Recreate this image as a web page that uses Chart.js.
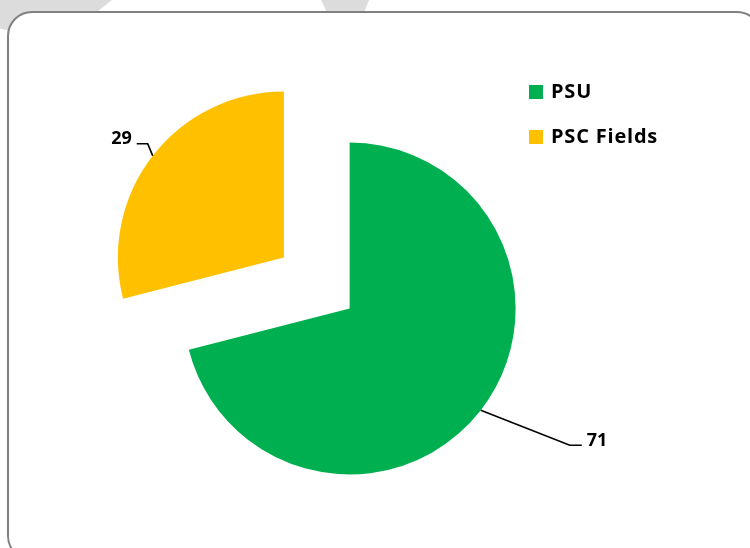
<html>
  <head>
    <meta charset="utf-8">
    <title>PSU vs PSC Fields</title>
    <script src="https://cdn.jsdelivr.net/npm/chart.js@4.4.1/dist/chart.umd.min.js"></script>
    <style>
      body { margin: 0; width: 750px; height: 548px; overflow: hidden; background: #fff; position: relative; }
      .blob { position: absolute; background: #dcdcdc; }
      #frame { position: absolute; left: 7px; top: 11px; width: 755px; height: 550px; border: 2px solid #808080;
               border-radius: 25px; background: #fff; box-sizing: border-box; }
      #myChart { position: absolute; left: 0; top: 0; }
      #legend { position: absolute; left: 529px; top: 0; font-family: "Open Sans", sans-serif; font-weight: bold;
                font-size: 20px; letter-spacing: 0.8px; color: #000; }
      .item { position: absolute; white-space: nowrap; line-height: 28px; }
      .item span.box { position: absolute; left: 0; width: 14px; height: 14px; }
      .item span.txt { position: absolute; left: 22px; }
    </style>
  </head>
  <body>
    <div class="blob" style="left:0;top:0;width:112px;height:40px;clip-path:polygon(0 0,100% 0,55% 100%,0 72%)"></div>
    <div class="blob" style="left:321px;top:0;width:48px;height:30px;clip-path:polygon(0 0,100% 0,75% 100%,30% 100%)"></div>
    <div id="frame"></div>
    <canvas id="myChart" width="750" height="548"></canvas>
    <div id="legend"></div>

    <script type="text/javascript">
      const labels = ["PSU", "PSC Fields"];
      const values = [71, 29];
      const colors = ['#00B050', '#FFC000'];

      // how far each slice is pulled out of the pie, and where its label line bends
      const explode = 41.6;
      const leaders = [
        { elbow: [89, 35], run: 12, side: 1 },
        { elbow: [-5, -12], run: -11, side: -1 }
      ];

      const explodePlugin = {
        id: 'explode',
        afterDatasetUpdate(chart, args) {
          const meta = chart.getDatasetMeta(args.index);
          meta.data.forEach(arc => {
            const mid = (arc.startAngle + arc.endAngle) / 2;
            arc.x += Math.cos(mid) * explode;
            arc.y += Math.sin(mid) * explode;
          });
        }
      };

      const labelPlugin = {
        id: 'sliceLabels',
        afterDatasetsDraw(chart) {
          const ctx = chart.ctx;
          const meta = chart.getDatasetMeta(0);
          ctx.save();
          ctx.strokeStyle = '#000';
          ctx.lineWidth = 1.7;
          ctx.fillStyle = '#000';
          ctx.font = 'bold 18px "Open Sans"';
          ctx.textBaseline = 'alphabetic';
          meta.data.forEach((arc, i) => {
            const mid = (arc.startAngle + arc.endAngle) / 2;
            const px = arc.x + Math.cos(mid) * arc.outerRadius;
            const py = arc.y + Math.sin(mid) * arc.outerRadius;
            const L = leaders[i];
            const ex = px + L.elbow[0], ey = py + L.elbow[1];
            ctx.beginPath();
            ctx.moveTo(px, py);
            ctx.lineTo(ex, ey);
            ctx.lineTo(ex + L.run, ey);
            ctx.stroke();
            ctx.textAlign = L.side > 0 ? 'left' : 'right';
            ctx.fillText(String(values[i]), ex + L.run + 5 * L.side, ey + 0.5);
          });
          ctx.restore();
        }
      };

      var ctx = document.getElementById('myChart').getContext('2d');
      var chart = new Chart(ctx, {
          type: 'pie',
          data: {
              labels: labels,
              datasets: [{
                  data: values,
                  backgroundColor: colors,
                  borderWidth: 0
              }]
          },
          options: {
              responsive: false,
              animation: false,
              radius: 166,
              layout: { padding: { left: 0, right: 116.5, top: 18, bottom: 0 } },
              plugins: {
                  legend: { display: false },
                  tooltip: { enabled: false }
              }
          },
          plugins: [explodePlugin, labelPlugin]
      });

      // legend built from the same arrays
      const legend = document.getElementById('legend');
      labels.forEach((name, i) => {
        const row = document.createElement('div');
        row.className = 'item';
        row.style.top = (77 + i * 45) + 'px';
        row.innerHTML = '<span class="box" style="top:8px;background:' + colors[i] + '"></span>' +
                        '<span class="txt">' + name + '</span>';
        legend.appendChild(row);
      });
    </script>
  </body>
</html>
